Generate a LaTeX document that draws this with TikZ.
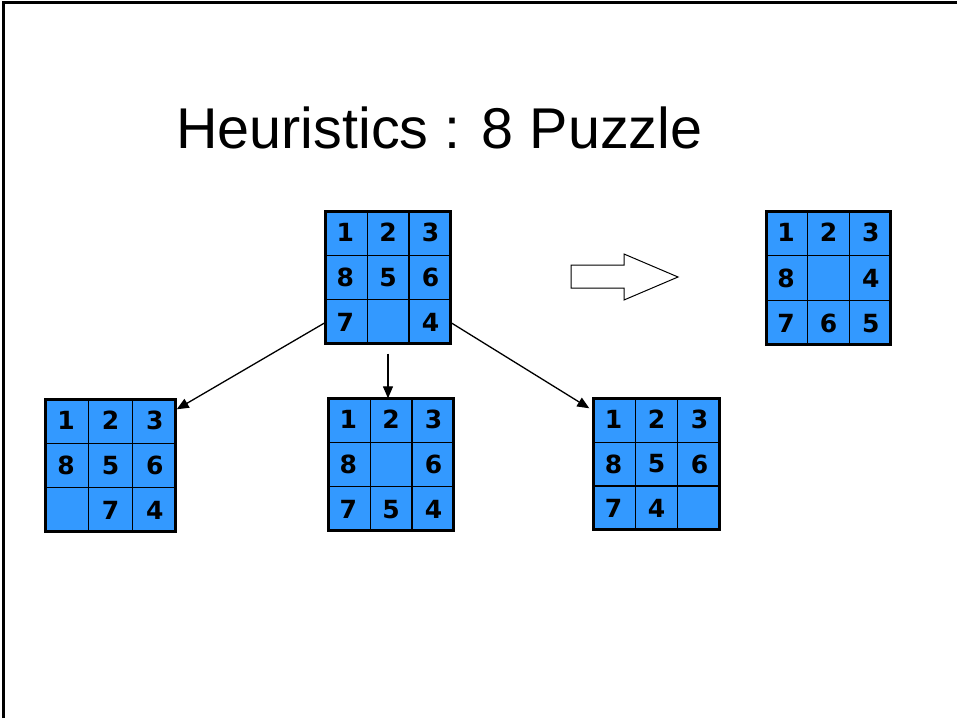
\documentclass[tikz,border=0pt]{standalone}
\usepackage{fontspec}
\setmainfont{Liberation Sans}
\newfontfamily\digitfont{DejaVu Sans}
\usetikzlibrary{arrows.meta,calc}
\definecolor{tileblue}{HTML}{3399FF}
\tikzset{
  gridbox/.style={draw=black, fill=tileblue, line width=2.6pt, inner sep=0pt, outer sep=0pt, anchor=north west},
  gridline/.style={draw=black, line width=1.2pt},
  digit/.style={inner sep=0pt, font=\digitfont\bfseries\fontsize{25}{25}\selectfont},
  move/.style={draw=black, line width=1.3pt, -{Triangle[length=12pt,width=10pt]}},
  blockarrow/.style={draw=black, line width=1pt, fill=white, line join=miter},
}
% name, x0, y0, width, height, entries (outer extents)
\newcommand\pgrid[6]{%
  \node[gridbox, minimum width={#4pt-2.6pt}, minimum height={#5pt-2.6pt}] (#1) at (#2+1.3,#3+1.3) {};
  \draw[gridline] ($(#1.north west)!1/3!(#1.north east)$) -- ($(#1.south west)!1/3!(#1.south east)$);
  \draw[gridline] ($(#1.north west)!2/3!(#1.north east)$) -- ($(#1.south west)!2/3!(#1.south east)$);
  \draw[gridline] ($(#1.north west)!1/3!(#1.south west)$) -- ($(#1.north east)!1/3!(#1.south east)$);
  \draw[gridline] ($(#1.north west)!2/3!(#1.south west)$) -- ($(#1.north east)!2/3!(#1.south east)$);
  \foreach \d [count=\i from 0] in {#6} {
    \pgfmathsetmacro\cc{mod(\i,3)}
    \pgfmathsetmacro\rr{int(\i/3)}
    \node[digit] (#1-\i) at ({#2+(\cc+0.5)*#4/3},{#3+(\rr+0.5)*#5/3}) {\d};
  }
}
\begin{document}
\begin{tikzpicture}[x=1pt,y=-1pt]
\useasboundingbox (0,0) rectangle (957,718);
% frame
\draw[line width=2.5pt] (3.5,718) -- (3.5,2.5) -- (957,2.5);
% title
\node[anchor=base west, inner sep=0pt, font=\fontsize{57.5}{57.5}\selectfont] (title) at (176,148) {Heuristics : 8 Puzzle};
% grids
\pgrid{top}{324}{210}{128}{135}{1,2,3,8,5,6,7,{},4}
\pgrid{goal}{765}{210}{127}{136}{1,2,3,8,{},4,7,6,5}
\pgrid{L}{44}{398}{133}{135}{1,2,3,8,5,6,{},7,4}
\pgrid{M}{327}{397}{128}{135}{1,2,3,8,{},6,7,5,4}
\pgrid{R}{592}{397}{129}{134}{1,2,3,8,5,6,7,4,{}}
% moves
\draw[move] (top-6.west -| top.west) -- ([shift={(1,10)}]L.north east);
\draw[move] ([shift={(0,10)}]top.south) -- (top.south |- M.north);
\draw[move] (top-8.east -| top.east) -- ([shift={(-4,10)}]R.north west);
% block arrow
\draw[blockarrow] (571,265) -- (624,265) -- (624,254) -- (678,277) -- (624,300) -- (624,288) -- (571,288) -- cycle;
\end{tikzpicture}
\end{document}
